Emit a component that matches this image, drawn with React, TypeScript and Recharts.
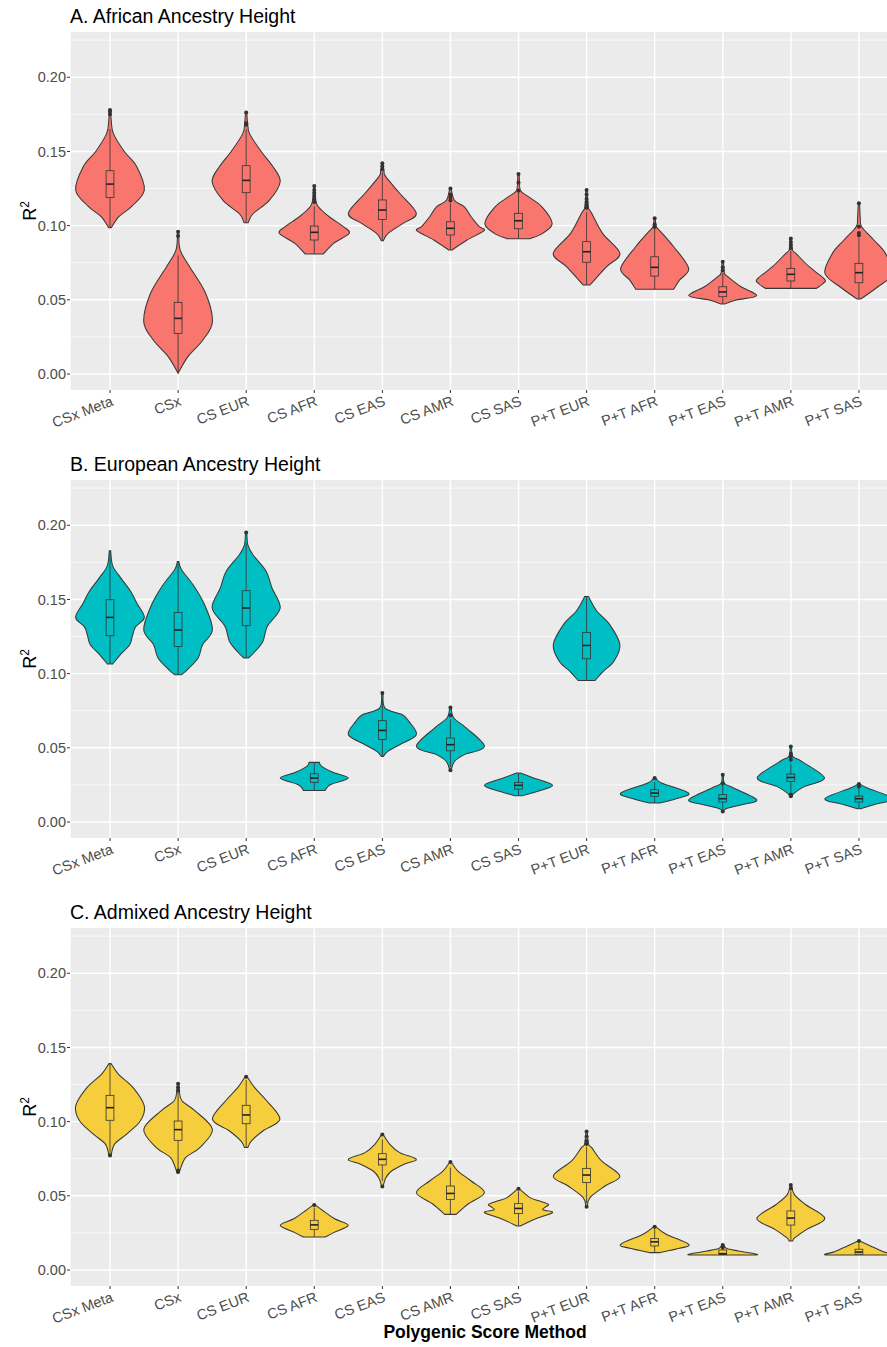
import React from "react";
import { ComposedChart, Bar, XAxis, YAxis, CartesianGrid } from "recharts";

const methods = [
  "CSx Meta", "CSx", "CS EUR", "CS AFR", "CS EAS", "CS AMR",
  "CS SAS", "P+T EUR", "P+T AFR", "P+T EAS", "P+T AMR", "P+T SAS",
];
const yTicks = [0, 0.05, 0.1, 0.15, 0.2];
const yMinor = [0.025, 0.075, 0.125, 0.175, 0.225];

// violin outline: [R2 value, width relative to category spacing], bottom -> top
const afrViolin = [
  [[0.0986, 0.04], [0.106, 0.26], [0.113, 0.64], [0.124, 1.01], [0.14, 0.78], [0.15, 0.42], [0.162, 0.1], [0.17, 0.04], [0.178, 0.02]],
  [[0.0005, 0.0], [0.0117, 0.29], [0.0229, 0.73], [0.0352, 1.01], [0.0544, 0.81], [0.0723, 0.34], [0.0836, 0.06], [0.0959, 0.02]],
  [[0.102, 0.06], [0.108, 0.2], [0.117, 0.68], [0.1296, 1.0], [0.14, 0.78], [0.15, 0.44], [0.162, 0.1], [0.17, 0.04], [0.1763, 0.02]],
  [[0.0809, 0.27], [0.0881, 0.57], [0.0948, 1.03], [0.0993, 0.86], [0.106, 0.44], [0.1127, 0.12], [0.118, 0.04], [0.1267, 0.02]],
  [[0.0898, 0.03], [0.0948, 0.17], [0.1015, 0.61], [0.1083, 1.0], [0.1218, 0.51], [0.133, 0.1], [0.1365, 0.05], [0.142, 0.02]],
  [[0.0836, 0.05], [0.0903, 0.49], [0.0966, 0.99], [0.0993, 0.85], [0.106, 0.61], [0.1127, 0.41], [0.117, 0.12], [0.1251, 0.02]],
  [[0.0912, 0.34], [0.0948, 0.71], [0.1015, 0.99], [0.1127, 0.69], [0.1195, 0.29], [0.1235, 0.06], [0.129, 0.03], [0.1348, 0.02]],
  [[0.06, 0.1], [0.0723, 0.59], [0.0813, 0.98], [0.0948, 0.47], [0.1083, 0.15], [0.1117, 0.06], [0.118, 0.03], [0.124, 0.02]],
  [[0.0571, 0.56], [0.0633, 0.73], [0.0712, 1.0], [0.0858, 0.56], [0.0948, 0.22], [0.0993, 0.05], [0.1049, 0.02]],
  [[0.0472, 0.05], [0.0499, 0.4], [0.0528, 1.0], [0.0588, 0.54], [0.0656, 0.15], [0.0679, 0.05], [0.0757, 0.02]],
  [[0.0577, 0.75], [0.061, 0.95], [0.064, 0.99], [0.0723, 0.54], [0.0813, 0.15], [0.0836, 0.05], [0.0914, 0.02]],
  [[0.0505, 0.05], [0.0588, 0.56], [0.0679, 1.0], [0.0813, 0.78], [0.0903, 0.44], [0.0993, 0.08], [0.105, 0.04], [0.115, 0.02]],
];
// [whisker low, q1, median, q3, whisker high]
const afrBox = [
  [0.0986, 0.119, 0.128, 0.137, 0.165],
  [0.0005, 0.0274, 0.0375, 0.0483, 0.08],
  [0.102, 0.1222, 0.1305, 0.1404, 0.165],
  [0.0809, 0.0903, 0.0955, 0.0997, 0.113],
  [0.0898, 0.1042, 0.1105, 0.1173, 0.136],
  [0.0836, 0.0937, 0.0982, 0.1026, 0.115],
  [0.0912, 0.0979, 0.1033, 0.1083, 0.122],
  [0.06, 0.0753, 0.0824, 0.0892, 0.109],
  [0.0571, 0.066, 0.0719, 0.079, 0.098],
  [0.0472, 0.0521, 0.0553, 0.0588, 0.068],
  [0.0577, 0.0627, 0.0672, 0.0712, 0.083],
  [0.0505, 0.0615, 0.0683, 0.0746, 0.092],
];
const afrOut = [
  [0.175, 0.177, 0.178], [0.093, 0.0959], [0.168, 0.169, 0.1763],
  [0.116, 0.118, 0.12, 0.122, 0.124, 0.1267], [0.138, 0.14, 0.142],
  [0.117, 0.119, 0.121, 0.1251], [0.1235, 0.129, 0.1348],
  [0.112, 0.114, 0.116, 0.118, 0.121, 0.124], [0.099, 0.101, 0.1049],
  [0.07, 0.072, 0.0757], [0.085, 0.087, 0.089, 0.0914], [0.0935, 0.095, 0.0993, 0.115],
];

const eurViolin = [
  [[0.1065, 0.08], [0.1127, 0.3], [0.1195, 0.58], [0.1255, 0.66], [0.1315, 0.75], [0.1379, 1.01], [0.1475, 0.79], [0.1554, 0.61], [0.1644, 0.32], [0.1726, 0.08], [0.1828, 0.02]],
  [[0.0993, 0.1], [0.1026, 0.27], [0.1105, 0.59], [0.1195, 0.72], [0.1296, 1.01], [0.1464, 0.78], [0.1599, 0.44], [0.17, 0.1], [0.1756, 0.02]],
  [[0.1105, 0.06], [0.1139, 0.22], [0.1217, 0.49], [0.1318, 0.62], [0.1442, 1.0], [0.1577, 0.76], [0.1689, 0.59], [0.1801, 0.2], [0.1868, 0.05], [0.1952, 0.02]],
  [[0.0213, 0.32], [0.0251, 0.47], [0.0296, 1.0], [0.0335, 0.55], [0.0375, 0.22], [0.0402, 0.15]],
  [[0.0442, 0.03], [0.0476, 0.16], [0.0521, 0.51], [0.0588, 1.0], [0.0678, 0.78], [0.0723, 0.59], [0.0768, 0.08], [0.0869, 0.02]],
  [[0.0348, 0.02], [0.0408, 0.12], [0.0454, 0.41], [0.0509, 1.0], [0.0633, 0.47], [0.0701, 0.1], [0.0772, 0.02]],
  [[0.0177, 0.1], [0.0206, 0.54], [0.0247, 1.0], [0.0297, 0.44], [0.033, 0.06]],
  [[0.0954, 0.25], [0.1015, 0.49], [0.1082, 0.8], [0.1195, 0.98], [0.133, 0.68], [0.1419, 0.31], [0.15, 0.1], [0.152, 0.06]],
  [[0.0128, 0.15], [0.0157, 0.63], [0.0195, 1.0], [0.0263, 0.2], [0.0297, 0.03]],
  [[0.0071, 0.02], [0.009, 0.1], [0.0117, 0.56], [0.015, 1.0], [0.0229, 0.32], [0.026, 0.05], [0.0319, 0.02]],
  [[0.0173, 0.03], [0.0195, 0.1], [0.024, 0.41], [0.0297, 0.99], [0.0408, 0.32], [0.0442, 0.06], [0.0509, 0.02]],
  [[0.009, 0.05], [0.0117, 0.44], [0.0157, 1.0], [0.0229, 0.25], [0.0256, 0.03]],
];
const eurBox = [
  [0.1065, 0.1255, 0.1379, 0.1498, 0.1828],
  [0.0993, 0.1183, 0.1294, 0.1412, 0.1756],
  [0.1105, 0.1323, 0.1442, 0.1559, 0.188],
  [0.0213, 0.0267, 0.0296, 0.0325, 0.0402],
  [0.0442, 0.0557, 0.0617, 0.0683, 0.083],
  [0.037, 0.048, 0.0521, 0.0566, 0.069],
  [0.0177, 0.0222, 0.0247, 0.0267, 0.033],
  [0.0954, 0.11, 0.119, 0.1278, 0.152],
  [0.0128, 0.0173, 0.0195, 0.0218, 0.027],
  [0.0085, 0.0135, 0.0157, 0.0184, 0.0255],
  [0.02, 0.0274, 0.03, 0.0323, 0.0395],
  [0.009, 0.0135, 0.0157, 0.0175, 0.023],
];
const eurOut = [
  [], [], [0.1952], [], [0.0869], [0.0348, 0.072, 0.0772], [], [],
  [0.0297], [0.0071, 0.0262, 0.0319], [0.0173, 0.0185, 0.042, 0.044, 0.046, 0.0509], [0.024, 0.0256],
];

const admViolin = [
  [[0.0768, 0.03], [0.0847, 0.13], [0.0914, 0.48], [0.1004, 0.89], [0.1105, 1.01], [0.1229, 0.68], [0.1319, 0.25], [0.1391, 0.03]],
  [[0.0656, 0.03], [0.0757, 0.22], [0.0825, 0.64], [0.0948, 1.01], [0.1071, 0.51], [0.1139, 0.12], [0.12, 0.04], [0.1256, 0.02]],
  [[0.0825, 0.05], [0.0869, 0.15], [0.0937, 0.49], [0.1015, 0.99], [0.1139, 0.61], [0.1229, 0.25], [0.1303, 0.03]],
  [[0.0222, 0.32], [0.0252, 0.57], [0.0301, 1.0], [0.0345, 0.6], [0.0398, 0.27], [0.0438, 0.03]],
  [[0.0562, 0.02], [0.062, 0.1], [0.0667, 0.27], [0.0713, 0.64], [0.0746, 1.0], [0.0791, 0.51], [0.0847, 0.22], [0.0914, 0.02]],
  [[0.0375, 0.17], [0.0443, 0.51], [0.0521, 1.0], [0.06, 0.61], [0.0667, 0.22], [0.0728, 0.02]],
  [[0.0296, 0.05], [0.0342, 0.47], [0.0387, 1.0], [0.0405, 0.72], [0.0425, 0.8], [0.0443, 0.88], [0.0466, 0.6], [0.0488, 0.34], [0.0548, 0.02]],
  [[0.0427, 0.02], [0.0488, 0.1], [0.0566, 0.54], [0.0633, 0.98], [0.0735, 0.44], [0.0825, 0.15], [0.0847, 0.06], [0.0933, 0.02]],
  [[0.0117, 0.15], [0.0146, 0.73], [0.0173, 1.0], [0.0241, 0.34], [0.0292, 0.03]],
  [[0.0101, 0.95], [0.0106, 1.0], [0.0128, 0.46], [0.0145, 0.12], [0.0168, 0.02]],
  [[0.0195, 0.05], [0.0218, 0.12], [0.0274, 0.47], [0.0348, 1.0], [0.0443, 0.42], [0.051, 0.1], [0.0573, 0.02]],
  [[0.0101, 0.95], [0.0106, 1.0], [0.0125, 0.7], [0.0162, 0.34], [0.0195, 0.03]],
];
const admBox = [
  [0.0768, 0.1009, 0.1094, 0.1177, 0.1391],
  [0.068, 0.0874, 0.0946, 0.1004, 0.12],
  [0.0825, 0.0986, 0.1045, 0.111, 0.128],
  [0.0222, 0.0274, 0.0304, 0.0335, 0.042],
  [0.06, 0.0708, 0.0746, 0.0784, 0.088],
  [0.0375, 0.0476, 0.0516, 0.0566, 0.069],
  [0.0296, 0.038, 0.0415, 0.0447, 0.053],
  [0.045, 0.0589, 0.064, 0.0685, 0.083],
  [0.0117, 0.0162, 0.019, 0.0212, 0.028],
  [0.0101, 0.0104, 0.011, 0.0135, 0.015],
  [0.0195, 0.0303, 0.035, 0.0398, 0.053],
  [0.0101, 0.0106, 0.0121, 0.014, 0.018],
];
const admOut = [
  [0.0772], [0.066, 0.067, 0.121, 0.123, 0.1256], [0.1303], [0.0438],
  [0.0562, 0.0914], [0.0728], [0.0548], [0.0427, 0.085, 0.087, 0.09, 0.0933],
  [0.0292], [0.0152, 0.016, 0.0168], [0.055, 0.0573], [0.0195],
];

const FONT = '"Liberation Sans", Arial, Helvetica, sans-serif';

function smooth(pts: number[][]) {
  let d = "";
  for (let i = 0; i < pts.length - 1; i++) {
    const p0 = pts[i - 1] || pts[i];
    const p1 = pts[i];
    const p2 = pts[i + 1];
    const p3 = pts[i + 2] || p2;
    const c1x = p1[0] + (p2[0] - p0[0]) / 6;
    const c1y = p1[1] + (p2[1] - p0[1]) / 6;
    const c2x = p2[0] - (p3[0] - p1[0]) / 6;
    const c2y = p2[1] - (p3[1] - p1[1]) / 6;
    d += ` C${c1x},${c1y} ${c2x},${c2y} ${p2[0]},${p2[1]}`;
  }
  return d;
}

function makeViolin(fill: string) {
  return (props: any) => {
    const { x, y, width, height, payload } = props;
    const [lo, hi] = payload.range;
    const top = Math.min(y, y + height);
    const h = Math.abs(height);
    const toPx = (v: number) => top + (h * (hi - v)) / (hi - lo);
    const cx = x + width / 2;
    const right = payload.profile.map(([v, w]: number[]) => [cx + (w * width) / 2, toPx(v)]);
    const left = payload.profile
      .slice()
      .reverse()
      .map(([v, w]: number[]) => [cx - (w * width) / 2, toPx(v)]);
    const d =
      `M${right[0][0]},${right[0][1]}` + smooth(right) +
      ` L${left[0][0]},${left[0][1]}` + smooth(left) + " Z";
    const [wl, q1, med, q3, wh] = payload.box;
    const bw = width * 0.115;
    return (
      <g>
        <path d={d} fill={fill} stroke="#383838" strokeWidth={1.05} />
        <line x1={cx} x2={cx} y1={toPx(wl)} y2={toPx(q1)} stroke="#333" strokeWidth={0.8} />
        <line x1={cx} x2={cx} y1={toPx(q3)} y2={toPx(wh)} stroke="#333" strokeWidth={0.8} />
        <rect x={cx - bw / 2} y={toPx(q3)} width={bw} height={toPx(q1) - toPx(q3)} fill={fill} stroke="#333" strokeWidth={0.8} />
        <line x1={cx - bw / 2} x2={cx + bw / 2} y1={toPx(med)} y2={toPx(med)} stroke="#222" strokeWidth={1.6} />
        {payload.outliers.map((o: number, k: number) => (
          <circle key={k} cx={cx} cy={toPx(o)} r={2} fill="#333" />
        ))}
      </g>
    );
  };
}

const XTick = (props: any) => {
  const { x, y, payload } = props;
  const tx = x + 4;
  const ty = y + 10;
  return (
    <text x={tx} y={ty} transform={`rotate(-21 ${tx} ${ty})`} textAnchor="end" fontSize={14.5} fill="#4d4d4d" fontFamily={FONT}>
      {payload.value}
    </text>
  );
};

function Panel(props: {
  title: string; color: string; top: number;
  violins: number[][][]; boxes: number[][]; outs: number[][];
}) {
  const { title, color, top, violins, boxes, outs } = props;
  const data = methods.map((m, i) => {
    const vals = [...violins[i].map((p) => p[0]), boxes[i][0], boxes[i][4], ...outs[i]];
    return {
      method: m,
      range: [Math.min(...vals), Math.max(...vals)],
      profile: violins[i],
      box: boxes[i],
      outliers: outs[i],
    };
  });
  return (
    <div style={{ position: "absolute", left: 0, top, width: 905, height: 445 }}>
      <div style={{ position: "absolute", left: 70, top: 7, fontSize: 19.5, lineHeight: "19.5px", color: "#000", whiteSpace: "nowrap" }}>
        {title}
      </div>
      <div
        style={{
          position: "absolute", left: 27, top: 211, fontSize: 18, lineHeight: "18px", color: "#000",
          transform: "translate(-50%, -50%) rotate(-90deg)", whiteSpace: "nowrap",
        }}
      >
        R<sup style={{ fontSize: 12 }}>2</sup>
      </div>
      <ComposedChart
        width={905}
        height={445}
        data={data}
        margin={{ top: 32, right: 5, bottom: 0, left: 0 }}
        barCategoryGap={0}
        barGap={0}
      >
        <CartesianGrid fill="#EBEBEB" stroke="#ffffff" strokeWidth={0.7} vertical={false} horizontalValues={yMinor} />
        <CartesianGrid stroke="#ffffff" strokeWidth={1.4} horizontalValues={yTicks} />
        <XAxis
          dataKey="method"
          padding={{ left: 6, right: 7 }}
          height={55}
          interval={0}
          axisLine={false}
          tickSize={3}
          tickLine={{ stroke: "#333", strokeWidth: 1 }}
          tick={<XTick />}
        />
        <YAxis
          type="number"
          domain={[-0.01078, 0.2305]}
          ticks={yTicks}
          allowDataOverflow
          width={70}
          axisLine={false}
          tickSize={3}
          tickMargin={1}
          tickLine={{ stroke: "#333", strokeWidth: 1 }}
          tick={{ fill: "#4d4d4d", fontSize: 14.5, fontFamily: FONT }}
          tickFormatter={(v: number) => v.toFixed(2)}
        />
        <Bar dataKey="range" shape={makeViolin(color)} isAnimationActive={false} />
      </ComposedChart>
    </div>
  );
}

export default function App() {
  return (
    <div
      style={{
        position: "absolute", left: 0, top: 0, width: 887, height: 1347,
        overflow: "hidden", background: "#ffffff", fontFamily: FONT,
      }}
    >
      <Panel title="A. African Ancestry Height" color="#F8766D" top={0} violins={afrViolin} boxes={afrBox} outs={afrOut} />
      <Panel title="B. European Ancestry Height" color="#00BFC4" top={448} violins={eurViolin} boxes={eurBox} outs={eurOut} />
      <Panel title="C. Admixed Ancestry Height" color="#F6CD3C" top={896} violins={admViolin} boxes={admBox} outs={admOut} />
      <div
        style={{
          position: "absolute", left: 0, top: 1324, width: 970, textAlign: "center",
          fontSize: 17.5, lineHeight: "17.5px", fontWeight: "bold", color: "#000",
        }}
      >
        Polygenic Score Method
      </div>
    </div>
  );
}
